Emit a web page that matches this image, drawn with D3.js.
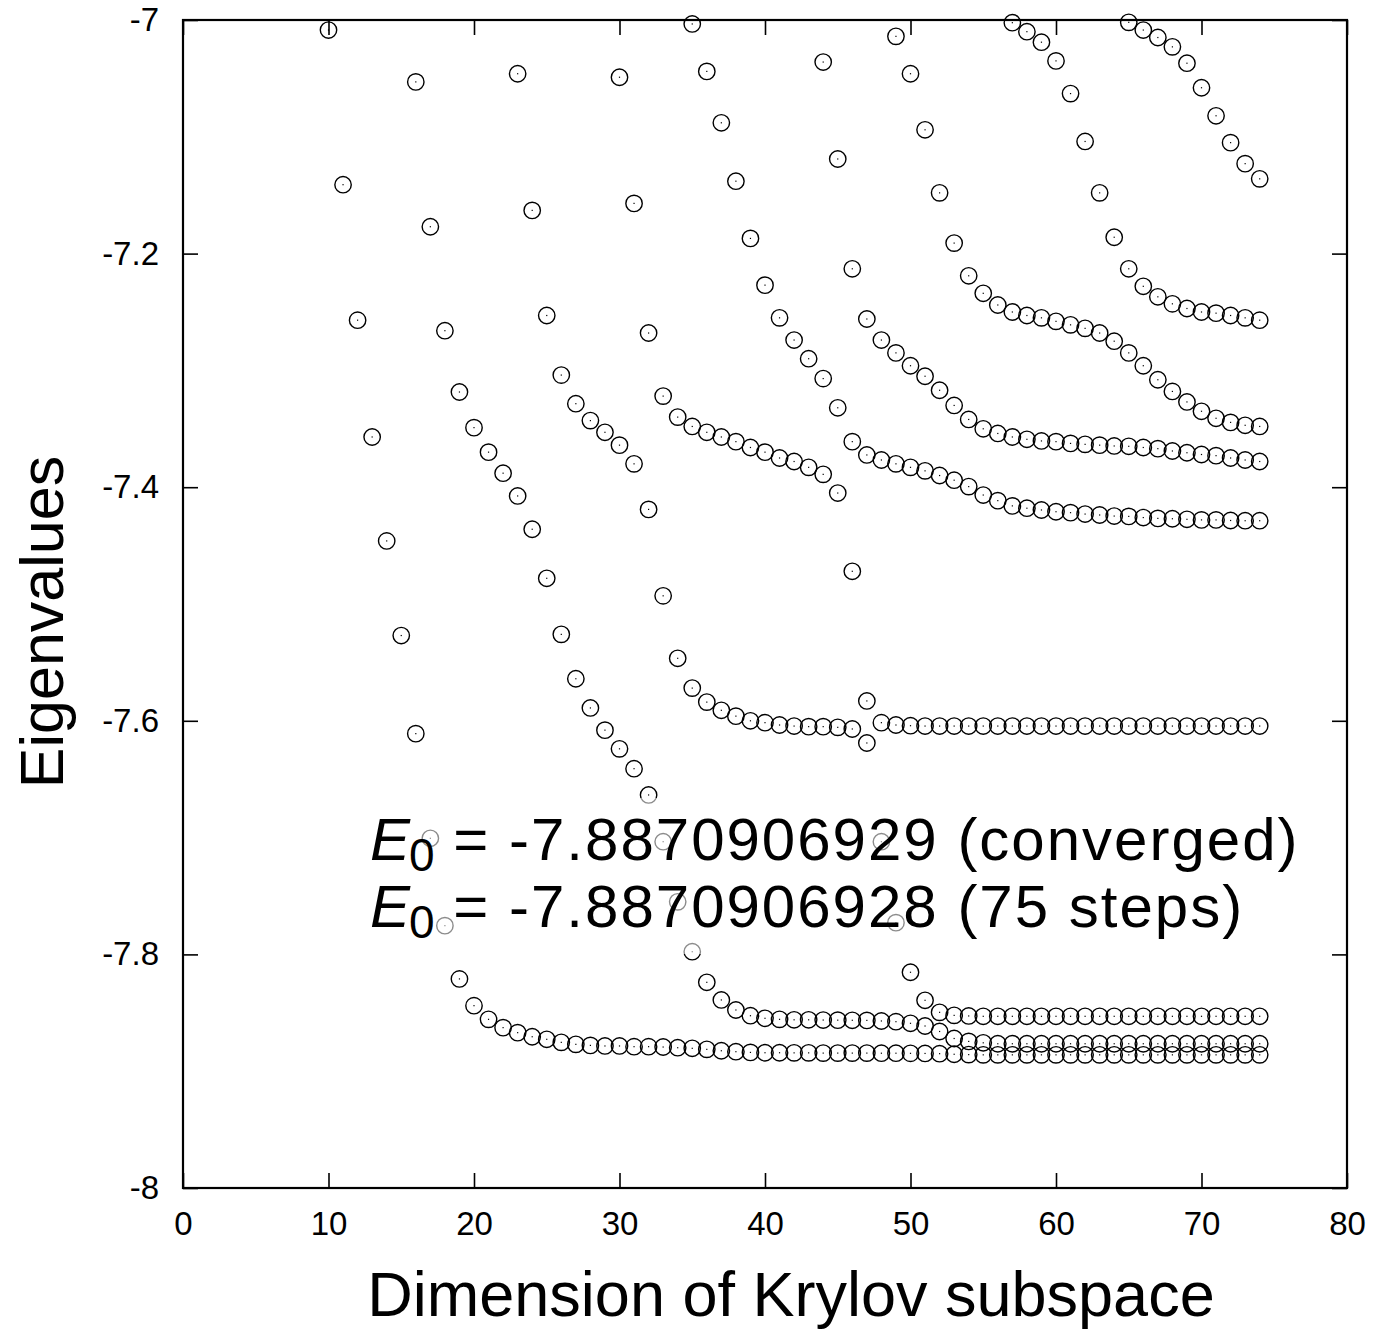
<!DOCTYPE html>
<html>
<head>
<meta charset="utf-8">
<script src="https://cdn.jsdelivr.net/npm/d3@7"></script>
<style>
  body { margin: 0; background: #fff; }
  text { font-family: "Liberation Sans", Arial, Helvetica, sans-serif; fill: #000; }
</style>
</head>
<body>
<svg id="chart" width="1377" height="1329"></svg>
<script>
// Ritz values (Lanczos eigenvalue estimates) inside [-8, -7], grouped in branches
// each branch starts at the Krylov dimension given in branchStart
var branchStart = [10, 16, 23, 30, 35, 44, 49, 57, 65];

var branch1 = [-7.0086, -7.141, -7.257, -7.357, -7.446, -7.527, -7.611, -7.7006, -7.7754, -7.821,
  -7.8439, -7.8556, -7.8627, -7.867, -7.8705, -7.8727, -7.8753, -7.877, -7.8779, -7.8784,
  -7.8784, -7.879, -7.879, -7.8793, -7.8799, -7.8804, -7.8813, -7.8825, -7.8833, -7.8839,
  -7.8842, -7.8842, -7.8843, -7.8843, -7.8845, -7.8845, -7.8845, -7.8845, -7.8846, -7.8846,
  -7.8847, -7.8848, -7.885, -7.8855, -7.8858, -7.886, -7.886, -7.886, -7.886, -7.886,
  -7.886, -7.886, -7.886, -7.886, -7.886, -7.886, -7.886, -7.886, -7.886, -7.886,
  -7.886, -7.886, -7.886, -7.886, -7.886];

var branch2 = [-7.053, -7.177, -7.266, -7.3185, -7.349, -7.370, -7.388, -7.4075, -7.436, -7.478,
  -7.526, -7.564, -7.589, -7.608, -7.624, -7.641, -7.6635, -7.7035, -7.755, -7.7977,
  -7.8239, -7.839, -7.8476, -7.8525, -7.8547, -7.8556, -7.856, -7.856, -7.8562, -7.8563,
  -7.8564, -7.8565, -7.857, -7.8576, -7.859, -7.8613, -7.866, -7.872, -7.8745, -7.8757,
  -7.8765, -7.8765, -7.8765, -7.8765, -7.8765, -7.8765, -7.8765, -7.8765, -7.8765, -7.8765,
  -7.8765, -7.8765, -7.8765, -7.8765, -7.8765, -7.8765, -7.8765, -7.8765, -7.8765];

var branch3 = [-7.046, -7.163, -7.253, -7.304, -7.3285, -7.343, -7.353, -7.364, -7.380, -7.419,
  -7.493, -7.5465, -7.572, -7.584, -7.591, -7.596, -7.600, -7.6016, -7.6036, -7.6045,
  -7.605, -7.605, -7.6056, -7.607, -7.619, -7.7035, -7.7728, -7.8153, -7.8393, -7.8496,
  -7.8522, -7.8527, -7.853, -7.853, -7.853, -7.853, -7.853, -7.853, -7.853, -7.853,
  -7.853, -7.853, -7.853, -7.853, -7.853, -7.853, -7.853, -7.853, -7.853, -7.853,
  -7.853, -7.853];

var branch4 = [-7.049, -7.157, -7.268, -7.322, -7.340, -7.348, -7.353, -7.357, -7.361, -7.366,
  -7.370, -7.375, -7.378, -7.383, -7.389, -7.405, -7.472, -7.583, -7.6016, -7.6036,
  -7.6042, -7.6045, -7.6045, -7.6045, -7.6045, -7.6045, -7.6045, -7.6045, -7.6045, -7.6045,
  -7.6045, -7.6045, -7.6045, -7.6045, -7.6045, -7.6045, -7.6045, -7.6045, -7.6045, -7.6045,
  -7.6045, -7.6045, -7.6045, -7.6045, -7.6045];

var branch5 = [-7.0034, -7.044, -7.088, -7.138, -7.187, -7.227, -7.255, -7.274, -7.290, -7.307,
  -7.332, -7.361, -7.3724, -7.3767, -7.380, -7.383, -7.386, -7.390, -7.394, -7.3995,
  -7.4067, -7.4115, -7.416, -7.418, -7.4195, -7.421, -7.4218, -7.423, -7.4238, -7.4247,
  -7.425, -7.426, -7.4267, -7.427, -7.4275, -7.428, -7.428, -7.4285, -7.4287, -7.4287];

var branch6 = [-7.036, -7.119, -7.213, -7.256, -7.274, -7.285, -7.296, -7.305, -7.317, -7.330,
  -7.342, -7.350, -7.354, -7.357, -7.359, -7.3604, -7.361, -7.3625, -7.3633, -7.364,
  -7.3647, -7.365, -7.366, -7.367, -7.369, -7.3705, -7.372, -7.373, -7.375, -7.3767,
  -7.378];

var branch7 = [-7.014, -7.046, -7.094, -7.148, -7.191, -7.219, -7.234, -7.244, -7.250, -7.253,
  -7.255, -7.258, -7.261, -7.264, -7.268, -7.275, -7.285, -7.296, -7.308, -7.318,
  -7.327, -7.335, -7.341, -7.3445, -7.347, -7.348];

var branch8 = [-7.0023, -7.010, -7.019, -7.035, -7.063, -7.104, -7.148, -7.186, -7.213, -7.228,
  -7.237, -7.243, -7.247, -7.250, -7.251, -7.253, -7.255, -7.257];

var branch9 = [-7.002, -7.0086, -7.015, -7.023, -7.037, -7.058, -7.082, -7.105, -7.123, -7.136];

var xTicks = [0, 10, 20, 30, 40, 50, 60, 70, 80];
var yTicks = [-8, -7.8, -7.6, -7.4, -7.2, -7];
var noteLines = [
  {value: "-7.8870906929", tag: "(converged)"},
  {value: "-7.8870906928", tag: "(75 steps)"}
];

var svg = d3.select("#chart");
var plotLeft = 183, plotRight = 1347, plotTop = 20, plotBottom = 1188;

var x = d3.scaleLinear().domain([0, 80]).range([plotLeft, plotRight]);
var y = d3.scaleLinear().domain([-8, -7]).range([plotBottom, plotTop]);

// flatten branches into (k, value) points
var branches = [branch1, branch2, branch3, branch4, branch5, branch6, branch7, branch8, branch9];
var points = [];
branches.forEach(function(b, i){
  b.forEach(function(v, j){ points.push({k: branchStart[i] + j, v: v}); });
});

// axes: inward ticks on all four sides
var tickLen = 15;
var gx = svg.append("g").attr("transform", "translate(0," + plotBottom + ")")
  .call(d3.axisBottom(x).tickValues(xTicks).tickSizeInner(-tickLen).tickSizeOuter(0).tickPadding(24));
var gy = svg.append("g").attr("transform", "translate(" + plotLeft + ",0)")
  .call(d3.axisLeft(y).tickValues(yTicks).tickSizeInner(-tickLen).tickSizeOuter(0).tickPadding(24)
    .tickFormat(function(d){ return String(+d.toFixed(1)); })); // plain hyphen, like gnuplot
var gx2 = svg.append("g").attr("transform", "translate(0," + plotTop + ")")
  .call(d3.axisTop(x).tickValues(xTicks).tickSizeInner(-tickLen).tickSizeOuter(0).tickFormat(""));
var gy2 = svg.append("g").attr("transform", "translate(" + plotRight + ",0)")
  .call(d3.axisRight(y).tickValues(yTicks).tickSizeInner(-tickLen).tickSizeOuter(0).tickFormat(""));

[gx, gy, gx2, gy2].forEach(function(g){
  g.select(".domain").remove();
  g.selectAll(".tick line").attr("stroke", "#000").attr("stroke-width", 1.6);
  g.selectAll(".tick text").attr("font-size", 33).attr("fill", "#000")
    .style("font-family", "'Liberation Sans', Arial, sans-serif");
});

svg.append("rect").attr("x", plotLeft).attr("y", plotTop)
  .attr("width", plotRight - plotLeft).attr("height", plotBottom - plotTop)
  .attr("fill", "none").attr("stroke", "#000").attr("stroke-width", 2.2);

// points: open circles with a tiny dot in the middle
var pts = svg.append("g");
pts.selectAll("circle.ring").data(points).enter().append("circle")
  .attr("class", "ring")
  .attr("cx", function(d){ return x(d.k); })
  .attr("cy", function(d){ return y(d.v); })
  .attr("r", 8.2)
  .attr("fill", "none").attr("stroke", "#000").attr("stroke-width", 1.4);
pts.selectAll("rect.dot").data(points).enter().append("rect")
  .attr("class", "dot")
  .attr("x", function(d){ return x(d.k) - 0.6; })
  .attr("y", function(d){ return y(d.v) - 0.6; })
  .attr("width", 1.2).attr("height", 1.2).attr("fill", "#000");

// annotation, with a half transparent backdrop that greys out circles behind it
var veil = svg.append("rect").attr("fill", "#fff").attr("opacity", 0.55);
var note = svg.append("g");
noteLines.forEach(function(l, i){
  var t = note.append("text").attr("x", 370).attr("y", 860 + i * 67).attr("font-size", 60);
  t.append("tspan").attr("font-style", "italic").text("E");
  t.append("tspan").attr("font-size", 46).attr("dx", -1).attr("dy", 11).text("0");
  t.append("tspan").attr("dy", -11).style("letter-spacing", "2px")
    .text(" = " + l.value + " " + l.tag);
});
var bb = note.node().getBBox();
veil.attr("x", bb.x - 6).attr("y", bb.y - 8).attr("width", bb.width + 12).attr("height", bb.height + 14);

// axis titles
svg.append("text").attr("x", 791).attr("y", 1316).attr("text-anchor", "middle")
  .attr("font-size", 63).text("Dimension of Krylov subspace");
svg.append("text").attr("transform", "translate(63,622) rotate(-90)")
  .attr("text-anchor", "middle").attr("font-size", 61).text("Eigenvalues");
</script>
</body>
</html>
